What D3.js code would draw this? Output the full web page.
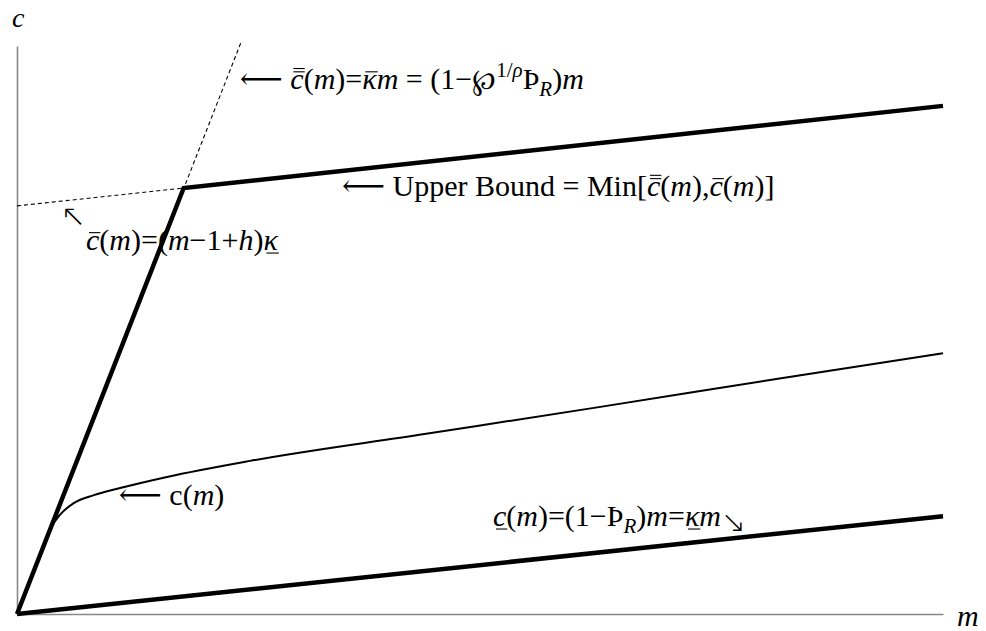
<!DOCTYPE html>
<html>
<head>
<meta charset="utf-8">
<script src="https://cdn.jsdelivr.net/npm/d3@7"></script>
<style>
  body { margin: 0; background: #fff; }
  text { font-family: "Liberation Serif", "Times New Roman", "DejaVu Serif", serif; fill: #000; }
</style>
</head>
<body>
<div id="canvas-div"></div>
<script>
const w = 986;
const h = 631;

// axis extents (m, c)
const mDomain = [0, 30];
const cDomain = [0, 18.4];

// lower bound  c_(m) = kappa_ m
const lowerM = [0, 30];
const lowerC = [0, 3.17];
// steep dashed line  cbarbar(m) = kappabar m
const steepM = [0, 7.25];
const steepC = [0, 18.5];
// flat dashed piece of cbar(m) = (m-1+h) kappa_
const flatM = [0, 5.4];
const flatC = [13.22, 13.8];
// upper bound = min of the two
const upperM = [0, 5.4, 30];
const upperC = [0, 13.8, 16.46];
// consumption function c(m)
const consM = [0, 0.58, 0.91, 1.13, 1.39, 1.85, 2.49, 3.34, 4.86, 7.55, 13.2, 18.9, 24.6, 30];
const consC = [0, 1.49, 2.33, 2.85, 3.21, 3.60, 3.85, 4.08, 4.44, 4.96, 5.83, 6.71, 7.61, 8.45];

// label anchors (m, c of text baseline start)
const labelM = [7.22, 10.53, 1.42, 3.3, 15.42];
const labelC = [17.0, 13.54, 11.79, 3.53, 2.85];
const labelParts = [
  [{t: '\u27F5 '}, {t: 'c', it: 1, deco: 'dbar'}, {t: '('}, {t: 'm', it: 1}, {t: ')='}, {t: '\u03BA', it: 1, deco: 'bar'},
   {t: 'm', it: 1}, {t: ' = (1\u2212'}, {t: '\u2118', font: 'DejaVu Serif', scale: 0.95}, {t: '1/', pos: 'sup'}, {t: '\u03C1', it: 1, pos: 'sup'},
   {t: '\u00DE'}, {t: 'R', it: 1, pos: 'sub'}, {t: ')'}, {t: 'm', it: 1}],
  [{t: '\u27F5 Upper Bound = Min['}, {t: 'c', it: 1, deco: 'dbar'}, {t: '('}, {t: 'm', it: 1}, {t: '),'},
   {t: 'c', it: 1, deco: 'bar'}, {t: '('}, {t: 'm', it: 1}, {t: ')]'}],
  [{t: '\u2196', font: 'DejaVu Sans', weight: 200, lift: 0.8}, {t: 'c', it: 1, deco: 'bar'}, {t: '('}, {t: 'm', it: 1}, {t: ')=('}, {t: 'm', it: 1},
   {t: '\u22121+'}, {t: 'h', it: 1}, {t: ')'}, {t: '\u03BA', it: 1, deco: 'under'}],
  [{t: '\u27F5 c('}, {t: 'm', it: 1}, {t: ')'}],
  [{t: 'c', it: 1, deco: 'under'}, {t: '('}, {t: 'm', it: 1}, {t: ')=(1\u2212\u00DE'}, {t: 'R', it: 1, pos: 'sub'},
   {t: ')'}, {t: 'm', it: 1}, {t: '='}, {t: '\u03BA', it: 1, deco: 'under'}, {t: 'm', it: 1},
   {t: '\u2198', font: 'DejaVu Sans', weight: 200, lift: -0.2}]
];

const fontSize = 30;

const svg = d3.select('#canvas-div').append('svg').attr('width', w).attr('height', h);

const xScale = d3.scaleLinear().domain(mDomain).range([17, 943]);
const yScale = d3.scaleLinear().domain(cDomain).range([614, 46]);

// axes, no ticks
svg.append('g').attr('transform', `translate(0, ${yScale(0)})`)
  .call(d3.axisBottom(xScale).ticks(0).tickSizeOuter(0));
svg.append('g').attr('transform', `translate(${xScale(0)}, 0)`)
  .call(d3.axisLeft(yScale).ticks(0).tickSizeOuter(0));
svg.selectAll('.domain').attr('stroke', '#888').attr('stroke-width', 1.6);

const zip = (ms, cs) => ms.map((m, i) => [m, cs[i]]);
const line = d3.line().x(d => xScale(d[0])).y(d => yScale(d[1]));

svg.append('path').datum(zip(steepM, steepC)).attr('d', line)
   .attr('fill', 'none').attr('stroke', '#000').attr('stroke-width', 1.1).attr('stroke-dasharray', '4,3');
svg.append('path').datum(zip(flatM, flatC)).attr('d', line)
   .attr('fill', 'none').attr('stroke', '#000').attr('stroke-width', 1.1).attr('stroke-dasharray', '4,3');

svg.append('path').datum(zip(consM, consC)).attr('d', line.curve(d3.curveMonotoneX))
   .attr('fill', 'none').attr('stroke', '#000').attr('stroke-width', 2);
line.curve(d3.curveLinear);

svg.append('path').datum(zip(lowerM, lowerC)).attr('d', line)
   .attr('fill', 'none').attr('stroke', '#000').attr('stroke-width', 4.5);
svg.append('path').datum(zip(upperM, upperC)).attr('d', line)
   .attr('fill', 'none').attr('stroke', '#000').attr('stroke-width', 4.5).attr('stroke-linejoin', 'miter');

// label writer: one text per part, advancing by its measured width
const writeLabel = (x0, y0, parts) => {
  const g = svg.append('g');
  let x = x0;
  parts.forEach(p => {
    const small = p.pos === 'sup' || p.pos === 'sub';
    const fs = fontSize * (small ? 0.7 : 1) * (p.scale || 1);
    let dy = p.pos === 'sup' ? -fontSize * 0.42 : (p.pos === 'sub' ? fontSize * 0.22 : 0);
    if (p.lift) dy -= fontSize * p.lift;
    const t = g.append('text').attr('x', x).attr('y', y0 + dy)
      .attr('font-size', fs).attr('font-style', p.it ? 'italic' : 'normal')
      .style('white-space', 'pre').text(p.t);
    if (p.font) t.style('font-family', `"${p.font}"`);
    if (p.weight) t.attr('font-weight', p.weight);
    const wd = t.node().getComputedTextLength();
    if (p.deco) {
      const a = x + (p.it ? 3 : 1), b = x + wd + (p.it ? 1 : 0);
      const ys = p.deco === 'under' ? [y0 + 3] : (p.deco === 'bar' ? [y0 - fontSize * 0.58] : [y0 - fontSize * 0.58, y0 - fontSize * 0.69]);
      ys.forEach(yy => g.append('line').attr('x1', a).attr('x2', b).attr('y1', yy).attr('y2', yy)
        .attr('stroke', '#000').attr('stroke-width', 1.1));
    }
    x += wd;
  });
};

labelParts.forEach((parts, i) => writeLabel(xScale(labelM[i]), yScale(labelC[i]), parts));

// axis titles
svg.append('text').attr('x', xScale(0) - 5).attr('y', 27).attr('font-size', 28)
   .attr('font-style', 'italic').text('c');
svg.append('text').attr('x', 957).attr('y', 626).attr('font-size', fontSize)
   .attr('font-style', 'italic').text('m');
</script>
</body>
</html>
